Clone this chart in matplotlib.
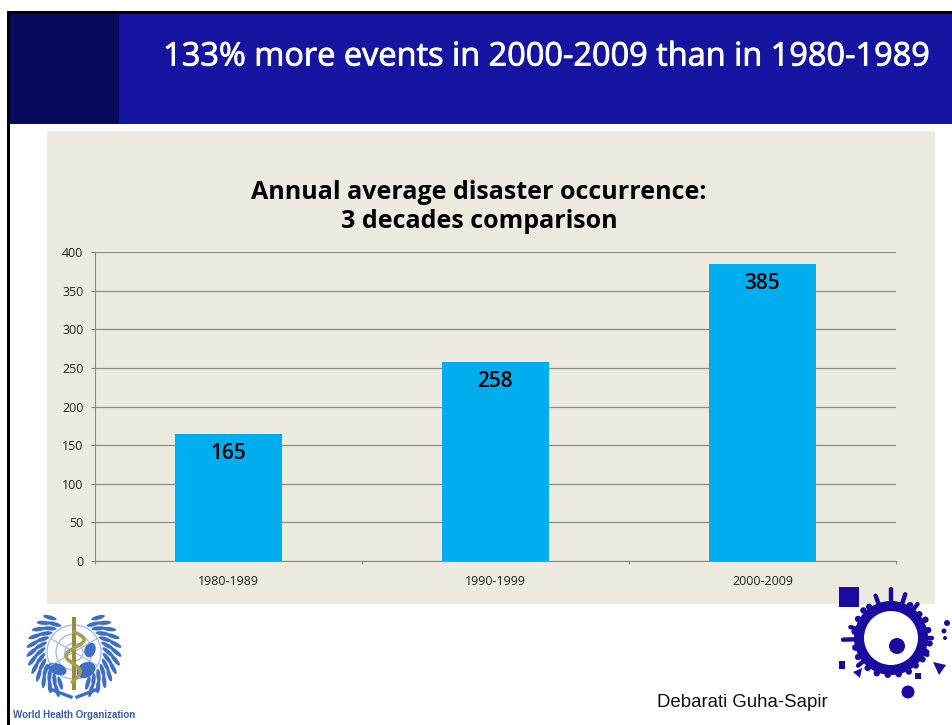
import numpy as np
import matplotlib
matplotlib.use('Agg')
import matplotlib.pyplot as plt
import matplotlib.patheffects as pe
from matplotlib.patches import Rectangle, Circle, Ellipse, Polygon

W, H = 952, 725

decades = ['1980-1989', '1990-1999', '2000-2009']
events = [165, 258, 385]
yticks = [0, 50, 100, 150, 200, 250, 300, 350, 400]

slide_title = '133% more events in 2000-2009 than in 1980-1989'
chart_title = 'Annual average disaster occurrence:\n3 decades comparison'
credit = 'Debarati Guha-Sapir'
who_name = 'World Health Organization'

plt.rcParams['font.family'] = ['Open Sans', 'DejaVu Sans']

BLUE = '#1414A0'
DARK = '#0A0A5C'
BEIGE = '#EDEAE0'
BAR = '#00AEEF'
GRID = '#8C8C88'
INK = '#1A0AA0'
WHO = '#3F6FC4'

fig = plt.figure(figsize=(W/100, H/100), dpi=100, facecolor='white')

# slide furniture, in pixel coordinates
bg = fig.add_axes([0, 0, 1, 1], zorder=0)
bg.set_xlim(0, W)
bg.set_ylim(H, 0)
bg.axis('off')
bg.add_patch(Rectangle((119, 13), W-119, 111, fc=BLUE, ec='none'))
bg.add_patch(Rectangle((9, 13), 110, 111, fc=DARK, ec='none'))
bg.add_patch(Rectangle((7, 11), W-7, 2.5, fc='black', ec='none'))
bg.add_patch(Rectangle((7, 11), 2.5, H-11, fc='black', ec='none'))
bg.add_patch(Rectangle((47, 131), 888, 473, fc=BEIGE, ec='none'))
bg.text(546, 57, slide_title, color='white', fontsize=23.4, fontweight='medium',
        ha='center', va='center',
        path_effects=[pe.withStroke(linewidth=0.6, foreground='white')])
bg.text(479, 207, chart_title, color='black', fontsize=18.0, fontweight='bold',
        ha='center', va='center', linespacing=1.2)
bg.text(657, 707, credit, family='Liberation Sans', fontsize=13.4, color='#111111',
        ha='left', va='baseline')

# WHO emblem
cx, cy = 74, 652
for r in (27, 18, 9):
    bg.add_patch(Circle((cx, cy), r, fc='none', ec='#9DB6E2', lw=0.9))
for a in np.radians([30, 90, 150]):
    bg.plot([cx-27*np.cos(a), cx+27*np.cos(a)], [cy-27*np.sin(a), cy+27*np.sin(a)],
            color='#9DB6E2', lw=0.8)
bg.add_patch(Ellipse((57, 669), 20, 11, angle=20, fc=WHO, ec='none'))
bg.add_patch(Ellipse((86, 670), 20, 15, angle=-30, fc=WHO, ec='none'))
bg.add_patch(Ellipse((90, 650), 11, 15, angle=20, fc=WHO, ec='none'))
for side in (-1, 1):
    for a in np.arange(-55, 70, 11):
        for r in (34, 42):
            t = np.radians(a)
            x = cx + side*r*np.cos(t)
            y = cy + r*np.sin(t)
            bg.add_patch(Ellipse((x, y), 14, 4.2, angle=side*(a+40), fc=WHO, ec='none'))
    bg.plot([cx+side*3, cx+side*24], [697, 689], color=WHO, lw=2.4)
bg.plot([cx, cx], [617, 690], color='#8E8E3A', lw=2.8, solid_capstyle='butt')
snake_y = np.linspace(632, 682, 60)
bg.plot(cx + 11*np.sin((snake_y-632)/50*3.1*np.pi)*(1-(snake_y-632)/90), snake_y,
        color='#A8A050', lw=2.6)
bg.text(13, 714.5, who_name, family='Liberation Sans', fontsize=7.0, fontweight='bold',
        color='#3A5FA8', ha='left', va='center')

# institute emblem
bg.add_patch(Rectangle((839, 587), 20, 20, fc=INK, ec='none'))
rcx, rcy = 891, 638
bg.add_patch(Circle((rcx, rcy), 32, fc='none', ec=INK, lw=7.2))
bump_deg = [-170, -150, -135, -125, -60, -40, -28, -12, 8, 22, 34, 48, 62, 78, 95, 112, 128, 150, 165]
bump_off = [37, 38, 39, 38, 38, 37, 39, 38, 39, 38, 38, 37, 38, 37, 37, 38, 38, 38, 37]
for d, o in zip(bump_deg, bump_off):
    t = np.radians(d)
    bg.add_patch(Circle((rcx+o*np.cos(t), rcy+o*np.sin(t)), 3.2, fc=INK, ec='none'))
spike_deg = [-110, -90, -72, -52, 0, 25, 140, 178, 195]
spike_len = [10, 14, 11, 8, 6, 5, 8, 13, 7]
for d, l in zip(spike_deg, spike_len):
    t = np.radians(d)
    bg.plot([rcx+34*np.cos(t), rcx+(35+l)*np.cos(t)],
            [rcy+34*np.sin(t), rcy+(35+l)*np.sin(t)], color=INK, lw=3.2, solid_capstyle='round')
bg.add_patch(Circle((897, 646), 8, fc=INK, ec='none'))
bg.add_patch(Circle((908, 692), 6.5, fc=INK, ec='none'))
bg.add_patch(Rectangle((915, 673), 6, 6, fc=INK, ec='none'))
bg.add_patch(Polygon([(933, 662), (946, 665), (939, 675)], fc=INK, ec='none'))
bg.add_patch(Polygon([(853, 672), (862, 668), (860, 678)], fc=INK, ec='none'))
bg.add_patch(Rectangle((839, 661), 6, 8, fc=INK, ec='none'))
bg.add_patch(Circle((947, 623), 3, fc=INK, ec='none'))
bg.add_patch(Circle((944, 631), 2.5, fc=INK, ec='none'))
bg.add_patch(Circle((945, 638), 2, fc=INK, ec='none'))

# chart
ax = fig.add_axes([94.5/W, 1-561/H, 801.5/W, 309/H], zorder=1)
ax.patch.set_alpha(0)
x = np.arange(len(decades))
bars = ax.bar(x, events, width=0.4, color=BAR, zorder=3)
ax.set_xlim(-0.5, 2.5)
ax.set_ylim(0, 400)
ax.set_yticks(yticks)
ax.set_xticks(x)
ax.set_xticklabels(decades)
ax.set_xticks([-0.5, 0.5, 1.5, 2.5], minor=True)
ax.tick_params(axis='x', which='major', length=0, labelsize=8.9, pad=10, colors='#222222')
ax.tick_params(axis='x', which='minor', length=2.5, width=0.8, color=GRID)
ax.tick_params(axis='y', length=3, width=0.8, color=GRID, labelsize=8.9, pad=5,
               labelcolor='#222222')
ax.grid(axis='y', color=GRID, lw=0.9, zorder=1)
ax.set_axisbelow(True)
for s in ('top', 'right'):
    ax.spines[s].set_visible(False)
for s in ('left', 'bottom'):
    ax.spines[s].set_color(GRID)
    ax.spines[s].set_linewidth(0.8)
ax.bar_label(bars, padding=-22, fontsize=15, fontweight='semibold', color='black')

fig.savefig('out.png', dpi=100, facecolor='white')
